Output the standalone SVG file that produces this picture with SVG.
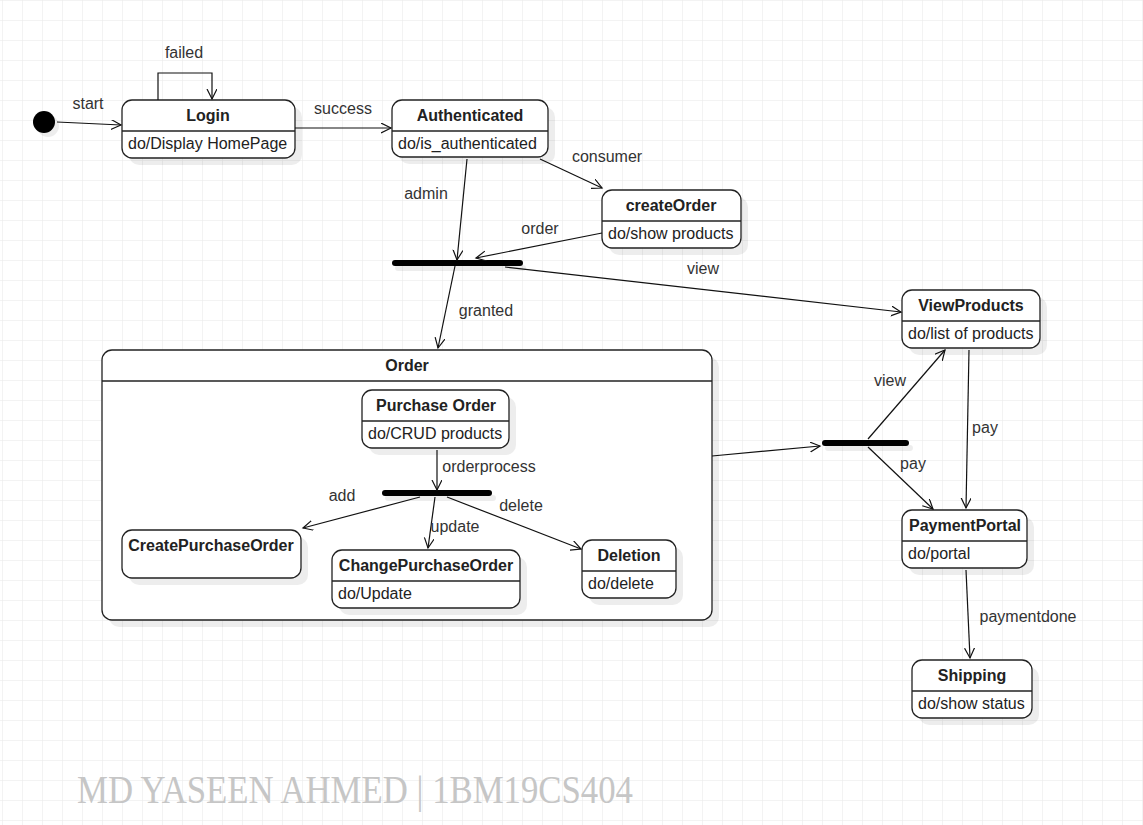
<svg xmlns="http://www.w3.org/2000/svg" width="1143" height="825" viewBox="0 0 1143 825">
<style>
.box{fill:#fff;stroke:#222;stroke-width:1.3}
.sh{fill:#000;fill-opacity:0.07}
.sep{stroke:#222;stroke-width:1.3}
.t{font-family:"Liberation Sans",Arial,sans-serif;font-size:16px;fill:#222}
.b{font-weight:bold;text-anchor:middle}
.lbl{font-family:"Liberation Sans",Arial,sans-serif;font-size:16px;fill:#333;text-anchor:middle}
.e{fill:none;stroke:#111;stroke-width:1.2;marker-end:url(#arr)}
.bar{stroke:#000;stroke-width:6;stroke-linecap:round}
.barsh{stroke:#000;stroke-opacity:0.07;stroke-width:6;stroke-linecap:round}
</style>
<defs>
<pattern id="grid" width="20" height="20" patternUnits="userSpaceOnUse" x="2" y="0">
<path d="M20,0 L0,0 L0,20" fill="none" stroke="#e8e8e8" stroke-width="1"/>
</pattern>
<marker id="arr" markerWidth="12" markerHeight="12" refX="10" refY="5" orient="auto" markerUnits="userSpaceOnUse">
<path d="M0,0 L10,5 L0,10" fill="none" stroke="#111" stroke-width="1.2"/>
</marker>
</defs>
<rect width="1143" height="825" fill="#fff"/>
<rect width="1143" height="825" fill="url(#grid)"/>

<g id="initial">
<circle cx="48" cy="126" r="11" class="sh"/>
<circle cx="44" cy="122" r="11" fill="#000"/>
</g>

<g id="login">
<rect x="129" y="107" width="173" height="58" rx="10" class="sh"/>
<rect x="122" y="100" width="173" height="58" rx="10" class="box"/>
<line x1="122" y1="131" x2="295" y2="131" class="sep"/>
<text x="208" y="121" class="t b">Login</text>
<text x="128" y="149" class="t">do/Display HomePage</text>
</g>

<g id="authenticated">
<rect x="399" y="107" width="156" height="57" rx="10" class="sh"/>
<rect x="392" y="100" width="156" height="57" rx="10" class="box"/>
<line x1="392" y1="131" x2="548" y2="131" class="sep"/>
<text x="470" y="121" class="t b">Authenticated</text>
<text x="398" y="149" class="t">do/is_authenticated</text>
</g>

<g id="createOrder">
<rect x="609" y="197" width="139" height="58" rx="10" class="sh"/>
<rect x="602" y="190" width="139" height="58" rx="10" class="box"/>
<line x1="602" y1="221" x2="741" y2="221" class="sep"/>
<text x="671" y="211" class="t b">createOrder</text>
<text x="608" y="239" class="t">do/show products</text>
</g>

<g id="fork1">
<line x1="398" y1="268" x2="523" y2="268" class="barsh"/>
<line x1="395" y1="263" x2="520" y2="263" class="bar"/>
</g>

<g id="viewProducts">
<rect x="909" y="297" width="138" height="58" rx="10" class="sh"/>
<rect x="902" y="290" width="138" height="58" rx="10" class="box"/>
<line x1="902" y1="321" x2="1040" y2="321" class="sep"/>
<text x="971" y="311" class="t b">ViewProducts</text>
<text x="908" y="339" class="t">do/list of products</text>
</g>

<g id="order">
<rect x="109" y="357" width="610" height="270" rx="10" class="sh"/>
<rect x="102" y="350" width="610" height="270" rx="10" class="box"/>
<line x1="102" y1="381" x2="712" y2="381" class="sep"/>
<text x="407" y="371" class="t b">Order</text>
</g>

<g id="purchaseOrder">
<rect x="369" y="397" width="147" height="58" rx="10" class="sh"/>
<rect x="362" y="390" width="147" height="58" rx="10" class="box"/>
<line x1="362" y1="421" x2="509" y2="421" class="sep"/>
<text x="436" y="411" class="t b">Purchase Order</text>
<text x="368" y="439" class="t">do/CRUD products</text>
</g>

<g id="fork2">
<line x1="388" y1="498" x2="493" y2="498" class="barsh"/>
<line x1="385" y1="493" x2="489" y2="493" class="bar"/>
</g>

<g id="createPurchaseOrder">
<rect x="129" y="537" width="179" height="48" rx="10" class="sh"/>
<rect x="122" y="530" width="179" height="48" rx="10" class="box"/>
<text x="211" y="551" class="t b">CreatePurchaseOrder</text>
</g>

<g id="changePurchaseOrder">
<rect x="339" y="557" width="188" height="58" rx="10" class="sh"/>
<rect x="332" y="550" width="188" height="58" rx="10" class="box"/>
<line x1="332" y1="581" x2="520" y2="581" class="sep"/>
<text x="426" y="571" class="t b">ChangePurchaseOrder</text>
<text x="338" y="599" class="t">do/Update</text>
</g>

<g id="deletion">
<rect x="589" y="547" width="94" height="58" rx="10" class="sh"/>
<rect x="582" y="540" width="94" height="58" rx="10" class="box"/>
<line x1="582" y1="571" x2="676" y2="571" class="sep"/>
<text x="629" y="561" class="t b">Deletion</text>
<text x="588" y="589" class="t">do/delete</text>
</g>

<g id="fork3">
<line x1="828" y1="448" x2="910" y2="448" class="barsh"/>
<line x1="825" y1="443" x2="906" y2="443" class="bar"/>
</g>

<g id="paymentPortal">
<rect x="909" y="517" width="125" height="58" rx="10" class="sh"/>
<rect x="902" y="510" width="125" height="58" rx="10" class="box"/>
<line x1="902" y1="541" x2="1027" y2="541" class="sep"/>
<text x="965" y="531" class="t b">PaymentPortal</text>
<text x="908" y="559" class="t">do/portal</text>
</g>

<g id="shipping">
<rect x="919" y="667" width="120" height="58" rx="10" class="sh"/>
<rect x="912" y="660" width="120" height="58" rx="10" class="box"/>
<line x1="912" y1="691" x2="1032" y2="691" class="sep"/>
<text x="972" y="681" class="t b">Shipping</text>
<text x="918" y="709" class="t">do/show status</text>
</g>

<g id="connectors">
<path d="M57,122 L121,125" class="e"/>
<path d="M158,100 L158,73 L212,73 L212,99" class="e"/>
<path d="M295,128 L391,128" class="e"/>
<path d="M540,159 L602,188" class="e"/>
<path d="M467,159 L457,260" class="e"/>
<path d="M602,233 L476,258" class="e"/>
<path d="M505,267 L901,312" class="e"/>
<path d="M455,266 L438,348" class="e"/>
<path d="M437,450 L437,490" class="e"/>
<path d="M420,497 L303,528" class="e"/>
<path d="M435,497 L428,548" class="e"/>
<path d="M447,497 L581,549" class="e"/>
<path d="M712,456 L820,446" class="e"/>
<path d="M868,439 L945,350" class="e"/>
<path d="M868,447 L933,509" class="e"/>
<path d="M969,350 L966,508" class="e"/>
<path d="M966,570 L970,658" class="e"/>
</g>

<g id="labels">
<text x="88" y="109" class="lbl">start</text>
<text x="184" y="58" class="lbl">failed</text>
<text x="343" y="114" class="lbl">success</text>
<text x="607" y="162" class="lbl">consumer</text>
<text x="426" y="199" class="lbl">admin</text>
<text x="540" y="234" class="lbl">order</text>
<text x="703" y="274" class="lbl">view</text>
<text x="486" y="316" class="lbl">granted</text>
<text x="489" y="472" class="lbl">orderprocess</text>
<text x="342" y="501" class="lbl">add</text>
<text x="455" y="532" class="lbl">update</text>
<text x="521" y="511" class="lbl">delete</text>
<text x="890" y="386" class="lbl">view</text>
<text x="913" y="469" class="lbl">pay</text>
<text x="985" y="433" class="lbl">pay</text>
<text x="1028" y="622" class="lbl">paymentdone</text>
</g>

<text x="77" y="803" font-family="'Liberation Serif','DejaVu Serif',serif" font-size="40" fill="#c6c6c6" textLength="556" lengthAdjust="spacingAndGlyphs">MD YASEEN AHMED | 1BM19CS404</text>
</svg>
